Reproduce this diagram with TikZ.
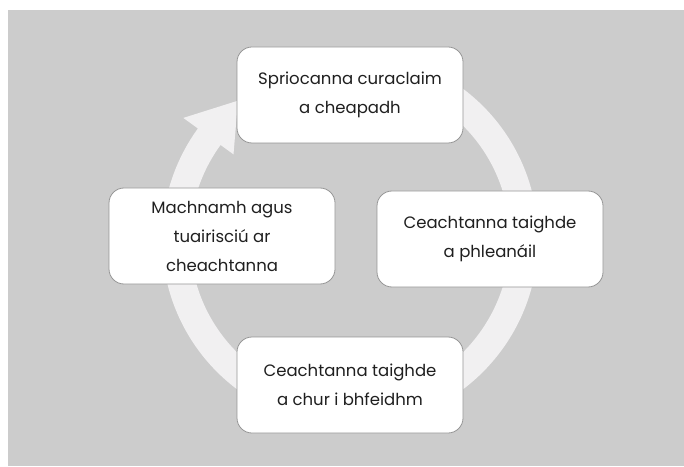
\documentclass[tikz,border=0pt]{standalone}
\usepackage{fontspec}
\setmainfont{Poppins}
\definecolor{bggray}{RGB}{204,204,204}
\definecolor{ringgray}{RGB}{241,240,241}
\definecolor{edgegray}{RGB}{150,150,150}

\begin{document}
\begin{tikzpicture}[x=1pt,y=1pt,
  stage/.style={draw=edgegray, line width=0.8pt, fill=white, rounded corners=15pt,
    minimum width=226pt, minimum height=96pt, align=center, text=black!88,
    font=\fontsize{16.5}{29}\selectfont}]
 \useasboundingbox (0,0) rectangle (684,466);
 \fill[bggray] (8,0) rectangle (684,456);
 \coordinate (ctr) at (350,227);
 % circular arrow behind the stages
 \fill[ringgray, shift={(ctr)}] (95:188) arc[start angle=95, end angle=-216, radius=188]
   -- (-216:206) -- (-231:178) -- (-216:144) -- (-216:160)
   arc[start angle=-216, end angle=95, radius=160] -- cycle;
 \node[stage] (goals) at (350,371) {Spriocanna curaclaim\\a cheapadh};
 \node[stage] (plan) at (490,227) {Ceachtanna taighde\\a phleanáil};
 \node[stage] (implement) at (350,81) {Ceachtanna taighde\\a chur i bhfeidhm};
 \node[stage] (reflect) at (222,230) {Machnamh agus\\tuairisciú ar\\cheachtanna};
\end{tikzpicture}
\end{document}
